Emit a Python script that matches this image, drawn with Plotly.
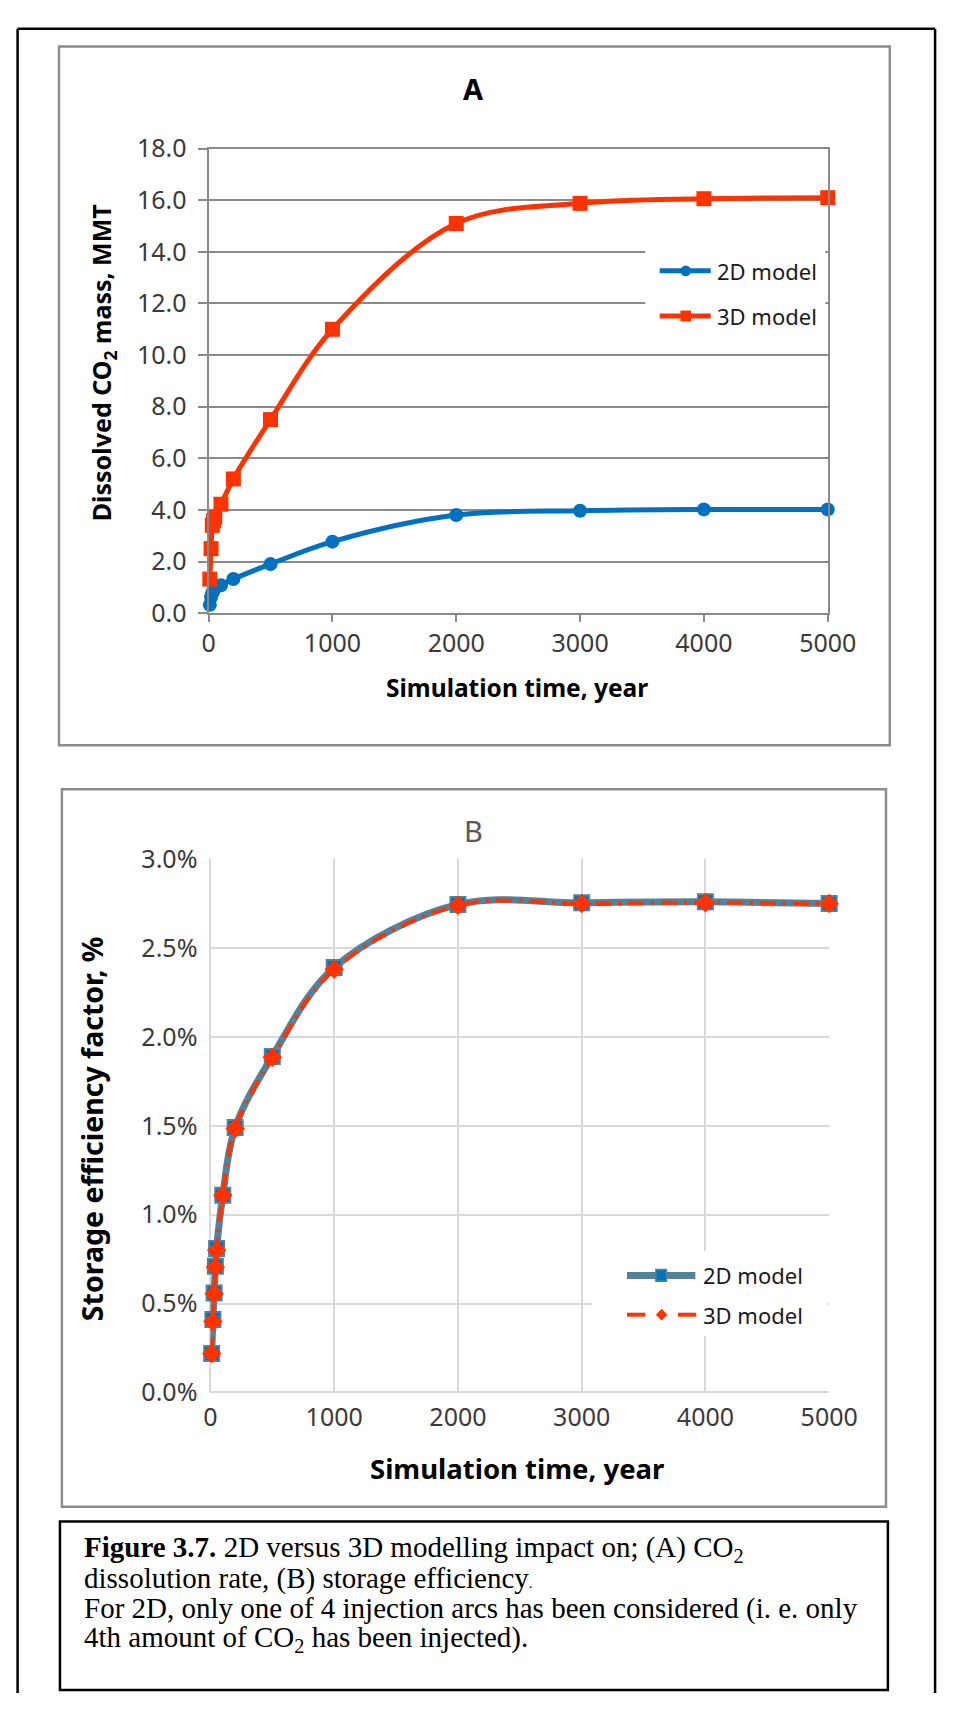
import plotly.graph_objects as go

# ---------------------------------------------------------------- data
years = [10, 20, 30, 40, 50, 100, 200, 500, 1000, 2000, 3000, 4000, 5000]

# (A) dissolved CO2 mass, MMT
dissolved_2d = [0.32, 0.62, 0.78, 0.88, 0.95, 1.08, 1.32, 1.90, 2.77, 3.80, 3.97, 4.02, 4.02]
dissolved_3d = [1.32, 2.50, 3.40, 3.58, 3.72, 4.22, 5.20, 7.50, 11.00, 15.10, 15.88, 16.06, 16.10]

# (B) storage efficiency factor, %
efficiency_2d = [0.22, 0.41, 0.56, 0.71, 0.81, 1.11, 1.49, 1.89, 2.39, 2.745, 2.755, 2.76, 2.75]
efficiency_3d = [0.22, 0.40, 0.555, 0.705, 0.80, 1.11, 1.485, 1.885, 2.38, 2.74, 2.75, 2.755, 2.75]

series_names = ["2D model", "3D model"]
time_ticks = [0, 1000, 2000, 3000, 4000, 5000]
mass_ticks = [0, 2, 4, 6, 8, 10, 12, 14, 16, 18]
efficiency_ticks = [0.0, 0.5, 1.0, 1.5, 2.0, 2.5, 3.0]
efficiency_tick_text = ["0.0%", "0.5%", "1.0%", "1.5%", "2.0%", "2.5%", "3.0%"]

caption_lines = [
    "<b>Figure 3.7.</b> 2D versus 3D modelling impact on; (A) CO<sub>2</sub>",
    "dissolution rate, (B) storage efficiency<span style='font-size:15px'>.</span>",
    "For 2D, only one of 4 injection arcs has been considered (i. e. only",
    "4th amount of CO<sub>2</sub> has been injected).",
]

# ---------------------------------------------------------------- styling
W, H = 966, 1709
FONT = "Noto Sans"
SERIF = "Liberation Serif"
BLUE = "#0070C0"
RED = "#FF3300"
STEEL = "#53829B"
GRID_A = "#8A8A8A"
GRID_B = "#D9D9D9"
TICK_TXT = "#3A3A3A"


def px(x):
    return x / W


def py(y):
    return 1 - y / H


fig = go.Figure()

# chart A
fig.add_trace(go.Scatter(
    x=years, y=dissolved_2d, name=series_names[0], xaxis="x", yaxis="y",
    mode="lines+markers", line=dict(color=BLUE, width=5, shape="spline"),
    marker=dict(symbol="circle", size=14, color=BLUE), cliponaxis=False, showlegend=False))
fig.add_trace(go.Scatter(
    x=years, y=dissolved_3d, name=series_names[1], xaxis="x", yaxis="y",
    mode="lines+markers", line=dict(color=RED, width=5, shape="spline"),
    marker=dict(symbol="square", size=15, color=RED), cliponaxis=False, showlegend=False))

# chart B
fig.add_trace(go.Scatter(
    x=years, y=efficiency_2d, name=series_names[0], xaxis="x2", yaxis="y2",
    mode="lines+markers", line=dict(color=STEEL, width=7, shape="spline"),
    marker=dict(symbol="square", size=15, color=BLUE, line=dict(color=STEEL, width=2)),
    cliponaxis=False, showlegend=False))
fig.add_trace(go.Scatter(
    x=years, y=efficiency_3d, name=series_names[1], xaxis="x2", yaxis="y2",
    mode="lines+markers", line=dict(color=RED, width=4, shape="spline", dash="16px,7px,3px,7px"),
    marker=dict(symbol="diamond", size=15, color=RED), cliponaxis=False, showlegend=False))

shapes = []
annotations = []


def rect(x0, y0, x1, y1, color, width, fill=None, layer="above"):
    shapes.append(dict(type="rect", xref="paper", yref="paper",
                       x0=px(x0), x1=px(x1), y0=py(y1), y1=py(y0),
                       line=dict(color=color, width=width),
                       fillcolor=fill if fill else "rgba(0,0,0,0)", layer=layer))


def seg(x0, y0, x1, y1, color, width):
    shapes.append(dict(type="line", xref="paper", yref="paper",
                       x0=px(x0), x1=px(x1), y0=py(y0), y1=py(y1),
                       line=dict(color=color, width=width), layer="below"))


def text(x, y, s, size, color="#000000", family=FONT, xanchor="center", angle=0):
    annotations.append(dict(xref="paper", yref="paper", x=px(x), y=py(y), text=s,
                            showarrow=False, xanchor=xanchor, yanchor="middle",
                            textangle=angle, font=dict(family=family, size=size, color=color)))


# page frame (open at the bottom edge)
seg(11, 11, 964, 11, "#000000", 2.5)
seg(11, 11, 11, 1709, "#000000", 2.5)
seg(964, 11, 964, 1709, "#000000", 2.5)
# chart boxes and caption box
rect(54, 29, 917, 742, "#8C8C8C", 2.5, layer="below")
rect(57, 787, 913, 1519, "#8C8C8C", 2.5, layer="below")
rect(55, 1534, 915, 1706, "#000000", 2.5, layer="below")

# chart titles and axis titles
text(485, 72, "<b>A</b>", 29)
text(485, 829, "B", 29, color="#595959")
text(100, 352, "<b>Dissolved CO<sub>2</sub> mass, MMT</b>", 25, angle=-90)
text(530, 683, "<b>Simulation time, year</b>", 24.5)
text(89, 1133, "<b>Storage efficiency factor, %</b>", 28.5, angle=-90)
text(530, 1480, "<b>Simulation time, year</b>", 27.5)

# legend A
rect(663, 222, 850, 325, "rgba(0,0,0,0)", 0, fill="#FFFFFF")
for cy, col, sym, label in [(258, BLUE, "circle", series_names[0]), (304, RED, "square", series_names[1])]:
    shapes.append(dict(type="line", xref="paper", yref="paper", x0=px(678), x1=px(731),
                       y0=py(cy), y1=py(cy), line=dict(color=col, width=5)))
    r = 5.5
    shapes.append(dict(type=sym if sym == "circle" else "rect", xref="paper", yref="paper",
                       x0=px(705 - r), x1=px(705 + r), y0=py(cy + r), y1=py(cy - r),
                       fillcolor=col, line=dict(color=col, width=0)))
    text(735, cy, label, 22, color="#1A1A1A", xanchor="left")

# legend B
rect(607, 1258, 852, 1345, "rgba(0,0,0,0)", 0, fill="#FFFFFF")
shapes.append(dict(type="line", xref="paper", yref="paper", x0=px(644), x1=px(715),
                   y0=py(1283), y1=py(1283), line=dict(color=STEEL, width=7)))
shapes.append(dict(type="rect", xref="paper", yref="paper", x0=px(674), x1=px(685),
                   y0=py(1289), y1=py(1277), fillcolor=BLUE, line=dict(color=STEEL, width=1.5)))
text(721, 1283, series_names[0], 22, color="#1A1A1A", xanchor="left")
for xa, xb in [(644, 663), (697, 716)]:
    shapes.append(dict(type="line", xref="paper", yref="paper", x0=px(xa), x1=px(xb),
                       y0=py(1323), y1=py(1323), line=dict(color=RED, width=4)))
d = 6
shapes.append(dict(type="path", xref="paper", yref="paper",
                   path=f"M {px(680)},{py(1323 - d)} L {px(680 + d)},{py(1323)} "
                        f"L {px(680)},{py(1323 + d)} L {px(680 - d)},{py(1323)} Z",
                   fillcolor=RED, line=dict(color=RED, width=0)))
text(721, 1323, series_names[1], 22, color="#1A1A1A", xanchor="left")

# caption
for i, line in enumerate(caption_lines):
    text(78, 1562 + i * 30.5, line, 29, family=SERIF, xanchor="left")

fig.update_layout(
    width=W, height=H, margin=dict(l=0, r=0, t=0, b=0),
    paper_bgcolor="#FFFFFF", plot_bgcolor="#FFFFFF",
    showlegend=False, shapes=shapes, annotations=annotations,
    font=dict(family=FONT, color=TICK_TXT),
    xaxis=dict(domain=[px(209.4), px(852.5)], range=[0, 5000], anchor="y",
               tickvals=time_ticks, showgrid=False, zeroline=False,
               showline=True, linecolor=GRID_A, linewidth=2, mirror=True,
               ticks="outside", ticklen=7, tickwidth=2, tickcolor=GRID_A,
               tickfont=dict(size=25, color=TICK_TXT)),
    yaxis=dict(domain=[py(607.2), py(133.3)], range=[0, 18], anchor="x",
               tickvals=mass_ticks, tickformat=".1f", showgrid=True,
               gridcolor=GRID_A, gridwidth=2, zeroline=False,
               showline=True, linecolor=GRID_A, linewidth=2, mirror=True,
               ticks="outside", ticklen=9, tickwidth=2, tickcolor=GRID_A,
               tickfont=dict(size=25, color=TICK_TXT), ticklabelstandoff=6),
    xaxis2=dict(domain=[px(211.3), px(854)], range=[0, 5000], anchor="y2",
                tickvals=time_ticks, showgrid=True, gridcolor=GRID_B, gridwidth=2,
                zeroline=True, zerolinecolor=GRID_B, zerolinewidth=2,
                showline=False, ticks="", tickfont=dict(size=25, color=TICK_TXT),
                ticklabelstandoff=8),
    yaxis2=dict(domain=[py(1402.4), py(858.2)], range=[0, 3], anchor="x2",
                tickvals=efficiency_ticks, ticktext=efficiency_tick_text,
                showgrid=True, gridcolor=GRID_B, gridwidth=2,
                zeroline=True, zerolinecolor=GRID_B, zerolinewidth=2,
                showline=False, ticks="", tickfont=dict(size=25, color=TICK_TXT),
                ticklabelstandoff=12),
)

fig.write_html("out.html")
